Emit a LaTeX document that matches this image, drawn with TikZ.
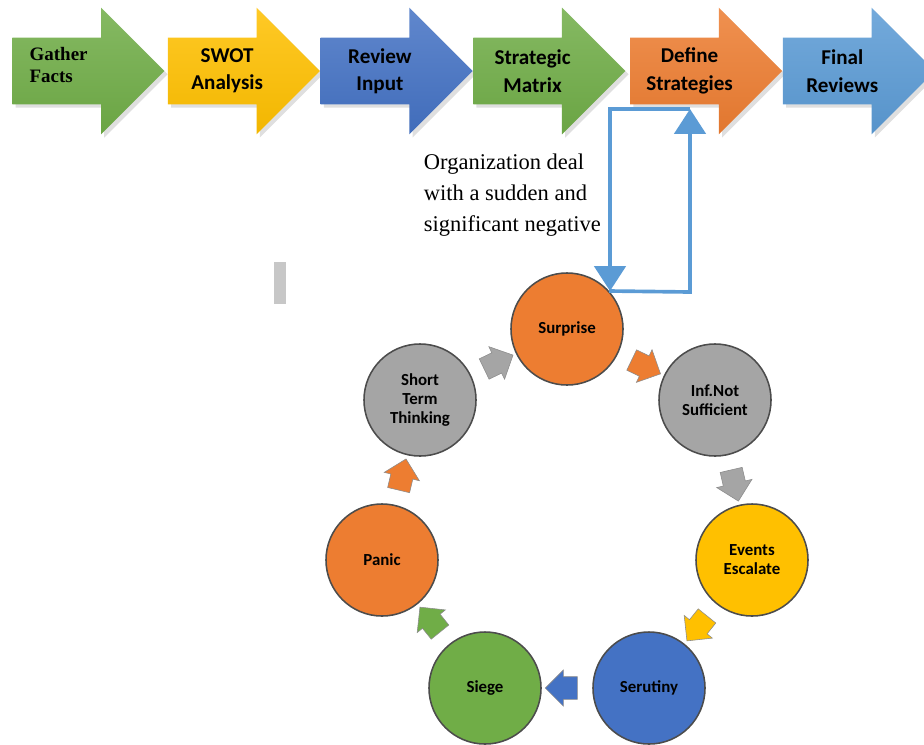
\documentclass[tikz,border=0pt]{standalone}
\usepackage{fontspec}
\setmainfont{Liberation Serif}
\newfontfamily\cali{Carlito}
\usetikzlibrary{shapes.arrows,arrows.meta,positioning,shadows}
\definecolor{mgreen}{HTML}{70AD47}
\definecolor{myellow}{HTML}{FFC000}
\definecolor{mblue}{HTML}{4472C4}
\definecolor{morange}{HTML}{ED7D31}
\definecolor{mlblue}{HTML}{5B9BD5}
\definecolor{mgray}{HTML}{A5A5A5}
% two centred lines in a box as high as the arrow shaft
\newcommand\stagetext[2]{\parbox[c][1.65cm][c]{1.35cm}{\centering\makebox[0pt]{#1}\\\makebox[0pt]{#2}}}

\begin{document}
\begin{tikzpicture}[x=0.025cm,y=-0.025cm,
      flowarr/.style={single arrow,single arrow head extend=0.75cm,minimum height=3.8cm,
                minimum width=3.15cm,inner sep=0pt,top color=#1!85!white,bottom color=#1!95!black,
                anchor=tail,drop shadow={opacity=0.25},font=\cali\bfseries\fontsize{15}{19.5}\selectfont},
      phase/.style={circle,minimum size=2.8cm,fill=#1,draw=black!70,line width=1.1pt,
                align=center,font=\cali\bfseries\fontsize{12}{13.5}\selectfont},
      turn/.style={single arrow,single arrow head extend=0.17cm,minimum height=0.8cm,
                minimum width=0.9cm,inner sep=0pt,text height=0.55cm,text depth=0pt,
                fill=#1,draw=black!45,sloped,allow upside down},
      fb/.style={line width=2.6pt,mlblue,-{Triangle[width=0.78cm,length=0.62cm]}}]
      \useasboundingbox (0,0) rectangle (924,744);
      % process steps
      \node[flowarr=mgreen,font=\bfseries\fontsize{13.5}{15}\selectfont] (gf) at (12,71)
        {\parbox[c][1.65cm][c]{2.1cm}{\raggedright Gather\\Facts\par\vspace{0.3cm}}};
      \node[flowarr=myellow] (sw) at ([xshift=2pt]gf.tip) {\stagetext{SWOT}{Analysis}};
      \node[flowarr=mblue]   (ri) at (sw.tip) {\stagetext{Review}{Input}};
      \node[flowarr=mgreen]  (sm) at (ri.tip) {\stagetext{Strategic}{Matrix}};
      \node[flowarr=morange] (ds) at ([xshift=3pt]sm.tip) {\stagetext{Define}{Strategies}};
      \node[flowarr=mlblue]  (fr) at (ds.tip) {\stagetext{Final}{Reviews}};
      % crisis cycle
      \node[phase=morange] (sur) at (567,329) {Surprise};
      \node[phase=mgray]   (inf) at (715,400) {Inf.Not\\Sufficient};
      \node[phase=myellow] (esc) at (752,560) {Events\\Escalate};
      \node[phase=mblue]   (ser) at (649,688) {Serutiny};
      \node[phase=mgreen]  (sie) at (485,688) {Siege};
      \node[phase=morange] (pan) at (382,560) {Panic};
      \node[phase=mgray]   (stt) at (420,400) {Short\\Term\\Thinking};
      \path (sur) -- node[turn=morange] (t1) {} (inf);
      \path (inf) -- node[turn=mgray]   (t2) {} (esc);
      \path (esc) -- node[turn=myellow] (t3) {} (ser);
      \path (ser) -- node[turn=mblue]   (t4) {} (sie);
      \path (sie) -- node[turn=mgreen]  (t5) {} (pan);
      \path (pan) -- node[turn=morange] (t6) {} (stt);
      \path (stt) -- node[turn=mgray]   (t7) {} (sur);
      % feedback loop
      \coordinate (fbL) at (610,109);
      \coordinate (fbR) at (690,109);
      \coordinate (fbB) at (690,292);
      \draw[fb] (sur.42) -- (fbB) -- (fbR);
      \draw[fb] (fbR) -- (fbL) -- (sur.42 -| fbL);
      \node[anchor=north west,align=left,font=\fontsize{16}{22}\selectfont] (note) at (419,149)
        {Organization deal\\with a sudden and\\significant negative};
      \node[fill=black!22,minimum width=0.3cm,minimum height=1.03cm,inner sep=0pt] (bar) at (280,283) {};
    \end{tikzpicture}
\end{document}
